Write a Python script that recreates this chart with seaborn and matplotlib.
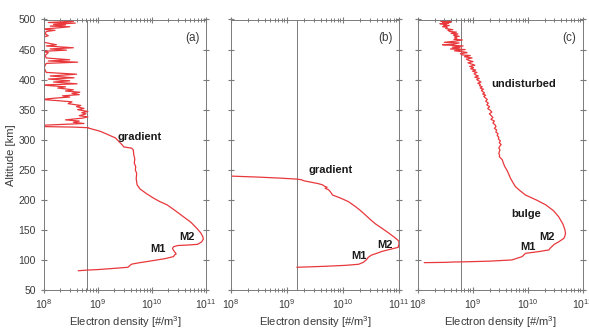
import numpy as np
import pandas as pd
import matplotlib
matplotlib.use("Agg")
import matplotlib.pyplot as plt
import matplotlib.ticker as mticker
import seaborn as sns

# ---------------- data ----------------
alt_a = [500, 499, 497, 495, 494, 492, 491, 489, 488, 486, 484, 482, 480, 476, 473, 470,
         462, 458, 456, 453, 451, 449, 447, 445, 440, 436, 433, 431, 429, 427, 420, 412,
         409, 406, 403, 401, 398, 396, 393, 391, 388, 386, 383, 381, 379, 377, 375, 373,
         371, 369, 367, 365, 363, 360, 357, 355, 352, 350, 347, 345, 343, 340, 338, 336,
         333, 331, 329, 327, 324, 322, 321, 320, 319.5, 314, 310, 303, 296, 290, 288, 286,
         283, 275, 268, 261, 255, 250, 244, 235, 225, 218, 210, 203, 197, 191.7, 182, 172,
         163, 153, 145, 138, 134.5, 130, 126, 125, 124, 122, 119, 116, 112, 110, 108, 105.5,
         102, 98, 95, 93, 90, 87.8, 86, 84, 83, 82]
ne_a = [4.5e8, 2.0e8, 3.5e8, 1.2e8, 3.8e8, 1.5e8, 2.5e8, 1.3e8, 3.0e8, 1.8e8, 9e7, 1.6e8,
        1.1e8, 1.05e8, 1.2e8, 9e7, 1.0e8, 1.7e8, 1.1e8, 3.5e8, 1.3e8, 2.6e8, 9e7, 1.2e8,
        1.05e8, 1.1e8, 3.0e8, 1.2e8, 4.2e8, 1.1e8, 1.0e8, 1.1e8, 4.0e8, 1.3e8, 3.6e8, 1.2e8,
        3.0e8, 1.5e8, 4.1e8, 9e7, 2.5e8, 1.8e8, 3.5e8, 2.5e8, 4.6e8, 3.3e8, 4.5e8, 2.2e8,
        3.0e8, 1.5e8, 9e7, 1.8e8, 3.3e8, 2.8e8, 4.8e8, 4.0e8, 5.5e8, 4.2e8, 6.5e8, 5.0e8,
        6.0e8, 4.5e8, 6.5e8, 5.2e8, 2.5e8, 4.5e8, 3.5e8, 5.5e8, 9e7, 8e7, 3.5e8, 6.6e8,
        6.6e8, 1.1e9, 1.4e9, 2.1e9, 2.5e9, 2.9e9, 3.0e9, 4.2e9, 4.5e9, 4.6e9, 4.8e9, 4.7e9,
        5.0e9, 4.9e9, 5.2e9, 5.1e9, 5.3e9, 6.0e9, 8e9, 1.06e10, 1.4e10, 1.9e10, 2.7e10,
        3.8e10, 5.2e10, 6.7e10, 8e10, 8.8e10, 8.9e10, 8.3e10, 7e10, 5e10, 3e10, 2.5e10,
        2.4e10, 2.5e10, 2.7e10, 2.8e10, 2.6e10, 2.5e10, 1.7e10, 9e9, 5.5e9, 4.2e9, 3.8e9,
        3.6e9, 2e9, 1e9, 6e8, 4.3e8]

alt_b = [240, 239.5, 237.8, 236, 234.5, 233.5, 231.7, 229, 227, 225, 222, 221, 219, 217,
         213, 208, 203, 197, 190, 183, 175, 167, 160, 153, 145, 138, 133, 130.5, 127, 124,
         121, 117, 114, 111, 108, 104, 100, 96, 92.8, 91, 89.5, 88.5, 87.8]
ne_b = [5e7, 1.0e8, 3.1e8, 8e8, 1.5e9, 1.8e9, 2e9, 2.8e9, 3.6e9, 4.3e9, 4.8e9, 5.2e9,
        4.8e9, 5.5e9, 6e9, 6.5e9, 9e9, 1.25e10, 1.6e10, 2.0e10, 2.5e10, 3.1e10, 3.8e10,
        4.9e10, 6.5e10, 8.2e10, 9.5e10, 1.0e11, 1.0e11, 9.8e10, 9.7e10, 6.5e10, 4.9e10,
        4.0e10, 3.2e10, 2.8e10, 2.6e10, 2.3e10, 1.9e10, 1.1e10, 5e9, 2.5e9, 1.5e9]

alt_c = [500, 499, 498, 497, 496, 495, 494, 493, 492, 491, 490, 488, 487, 485, 483, 482,
         480, 479, 477, 476, 474, 472, 471, 469, 467, 466, 464, 462, 461, 459, 458, 456,
         454, 453, 451, 450, 448, 446, 445, 443, 441, 440, 438, 436, 434, 432, 430, 428,
         426, 424, 422, 420, 418, 416, 414, 412, 410, 408, 406, 404, 402, 400, 398, 396,
         394, 392, 390, 388, 386, 384, 382, 380, 378, 376, 374, 372, 370, 367, 364, 361,
         358, 355, 352, 349, 346, 343, 340, 337, 334, 331, 328, 325, 322, 319, 316, 313,
         310, 307, 304, 301, 298, 295, 292, 289, 286, 283, 280, 277, 274, 272,
         266.7, 260, 255, 250, 244, 236, 229, 222, 215, 208, 200, 191.7, 182, 172, 160,
         150, 144.5, 140, 136, 130, 126, 122, 119, 116.7, 114, 111, 108, 105.5, 102, 100,
         98, 97, 96.5, 96, 95.5]
ne_c = [1.7e8, 3.0e8, 3.8e8, 2.6e8, 4.0e8, 2.8e8, 3.6e8, 2.5e8, 3.3e8, 2.9e8, 3.7e8,
        2.8e8, 3.4e8, 3.2e8, 4.3e8, 3.5e8, 3.8e8, 5.0e8, 4.0e8, 5.3e8, 4.4e8, 5.6e8,
        4.6e8, 5.1e8, 4.5e8, 6.4e8, 4.8e8, 3.0e8, 5.6e8, 4.4e8, 2.8e8, 6.6e8, 4.2e8,
        5.8e8, 3.9e8, 7.2e8, 4.6e8, 6.8e8, 7.8e8, 5.9e8, 6.5e8, 8.9e8, 7.0e8, 9.6e8,
        7.6e8, 8.4e8, 1.0e9, 8.1e8, 9.4e8, 1.08e9, 8.7e8, 1.02e9, 9.1e8, 1.12e9, 9.8e8,
        1.18e9, 1.05e9, 1.1e9, 1.25e9, 1.08e9, 1.3e9, 1.17e9, 1.27e9, 1.4e9, 1.22e9,
        1.36e9, 1.31e9, 1.47e9, 1.35e9, 1.55e9, 1.42e9, 1.5e9, 1.62e9, 1.5e9, 1.7e9,
        1.57e9, 1.66e9, 1.82e9, 1.7e9, 1.9e9, 1.78e9, 2.0e9, 1.85e9, 2.05e9, 2.2e9,
        1.98e9, 2.15e9, 2.3e9, 2.12e9, 2.45e9, 2.3e9, 2.5e9, 2.62e9, 2.45e9, 2.7e9,
        2.6e9, 2.85e9, 2.75e9, 2.95e9, 2.9e9, 3.15e9, 3.0e9, 3.25e9, 3.05e9, 2.95e9,
        3.1e9, 3.0e9, 2.95e9, 3.05e9, 3.0e9,
        3.4e9, 3.6e9, 3.8e9, 4.1e9, 4.4e9, 4.8e9, 5.3e9, 5.9e9, 7.2e9, 9e9, 1.4e10,
        2.1e10, 2.9e10, 3.6e10, 4.3e10, 4.7e10, 4.8e10, 4.7e10, 4.5e10, 3.6e10, 3.0e10,
        2.7e10, 2.5e10, 2.4e10, 1.6e10, 9e9, 8.3e9, 7.8e9, 6e9, 5.1e9, 2e9, 8e8, 4.2e8,
        3.2e8, 1.3e8]

vline_ne = [6.3e8, 1.5e9, 6.0e8]
panel_tags = ["(a)", "(b)", "(c)"]
xlabel = "Electron density [#/m$^3$]"
ylabel = "Altitude [km]"

# annotations: (text, x, y)
notes = [
    [("gradient", 6e9, 305), ("M2", 4.4e10, 138), ("M1", 1.3e10, 118)],
    [("gradient", 5.9e9, 250), ("M2", 5.6e10, 125), ("M1", 1.9e10, 107)],
    [("undisturbed", 8.2e9, 393), ("bulge", 9.2e9, 176), ("M2", 2.2e10, 138), ("M1", 1.0e10, 122)],
]

# ---------------- plotting ----------------
sns.set_style("ticks")
plt.rcParams["font.family"] = ["Liberation Sans", "DejaVu Sans"]
plt.rcParams["mathtext.fontset"] = "custom"
plt.rcParams["mathtext.rm"] = "Liberation Sans"

fig = plt.figure(figsize=(5.89, 3.33), dpi=100)
W, H = 589, 333
boxes = [(44, 206), (231, 399), (418, 583)]
top_px, bot_px = 19.5, 290

frames = [pd.DataFrame({"ne": ne_a, "alt": alt_a}),
          pd.DataFrame({"ne": ne_b, "alt": alt_b}),
          pd.DataFrame({"ne": ne_c, "alt": alt_c})]

line_col = "#e8383c"
grey = "#7a7a7a"
txt = "#3a3a3a"

for i, (df, (l, r)) in enumerate(zip(frames, boxes)):
    ax = fig.add_axes([l / W, 1 - bot_px / H, (r - l) / W, (bot_px - top_px) / H])
    sns.lineplot(data=df, x="ne", y="alt", sort=False, estimator=None, orient="y",
                 color=line_col, lw=0.9, ax=ax)
    ax.axvline(vline_ne[i], color=grey, lw=0.7, zorder=0)
    ax.set_xscale("log")
    ax.set_xlim(1e8, 1e11)
    ax.set_ylim(50, 500)
    ax.set_yticks(np.arange(50, 501, 50))
    ax.xaxis.set_major_locator(mticker.LogLocator(base=10, numticks=10))
    ax.xaxis.set_minor_locator(mticker.LogLocator(base=10, subs=np.arange(2, 10), numticks=20))
    ax.xaxis.set_minor_formatter(mticker.NullFormatter())
    ax.tick_params(axis="both", which="both", direction="inout", top=True, right=True,
                   bottom=True, left=True, color=grey, labelcolor=txt, labelsize=7.5)
    ax.tick_params(which="major", length=4.5, width=0.8)
    ax.tick_params(which="minor", length=3, width=0.7)
    ax.tick_params(axis="x", pad=3)
    for s in ax.spines.values():
        s.set_visible(True)
        s.set_color(grey)
        s.set_linewidth(0.7)
    ax.set_xlabel(xlabel, fontsize=8, color=txt, labelpad=2)
    if i == 0:
        ax.set_ylabel(ylabel, fontsize=8, color=txt, labelpad=2)
    else:
        ax.set_ylabel("")
        ax.set_yticklabels([])
    ax.text(0.96, 0.955, panel_tags[i], transform=ax.transAxes, ha="right", va="top",
            fontsize=8.5, color=txt)
    for (t, x, y) in notes[i]:
        ax.text(x, y, t, ha="center", va="center", fontsize=8, fontweight="bold",
                color="#1a1a1a")

fig.savefig("out.png", dpi=100)
